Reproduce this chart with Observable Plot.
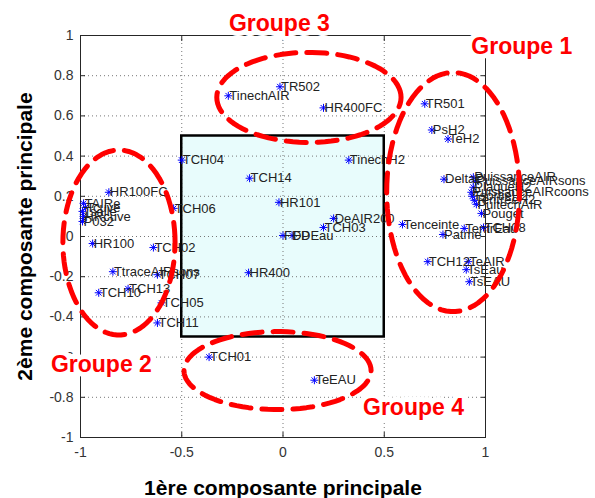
<!DOCTYPE html>
<html><head><meta charset="utf-8">
<script src="https://cdn.jsdelivr.net/npm/d3@7"></script>
<script src="https://cdn.jsdelivr.net/npm/@observablehq/plot@0.6"></script>
<style>body{margin:0;background:#fff} svg{display:block}</style>
</head><body><div id="chart"></div>
<script>
// Variables (labels) and their loadings on the two principal components
const names = ["HR100FC","TAIRe","Tsalle","Tcuve","HRcuve","P032","HR100","TtraceAIRsons","TCH10","TCH13",
  "TCH02","TCH07","TCH05","TCH11","TCH06","TCH04","TCH14","HR101","HR400","FDP","FDEau","TCH03","DeAIR200",
  "TinechH2","TCH01","TeEAU","TinechAIR","TR502","HR400FC","TR501","PsH2","TeH2","DeltaP",
  "PuissanceAIR","PuissanceAIRsons","PlaqueH2","PuissanceAIRcoons","TsortieH2","TentreeH2","PuitechAIR","Pouget",
  "Tenceinte","Patme","TentrEau","TCH08","TCH12","TeAIR","TsEau","TsEAU"];
const pc1 = [-0.86,-0.985,-0.99,-0.975,-0.985,-0.99,-0.94,-0.84,-0.91,-0.765,
  -0.64,-0.62,-0.60,-0.62,-0.54,-0.50,-0.165,-0.02,-0.17,0.0,0.045,0.20,0.25,
  0.325,-0.365,0.155,-0.27,-0.015,0.20,0.70,0.735,0.815,0.795,
  0.94,0.95,0.94,0.93,0.935,0.945,0.955,0.98,
  0.59,0.79,0.895,0.99,0.715,0.915,0.905,0.92];
const pc2 = [0.22,0.165,0.125,0.145,0.10,0.075,-0.035,-0.175,-0.28,-0.26,
  -0.055,-0.19,-0.33,-0.43,0.14,0.38,0.29,0.17,-0.18,0.005,0.005,0.045,0.09,
  0.38,-0.60,-0.715,0.70,0.745,0.64,0.66,0.53,0.485,0.285,
  0.295,0.275,0.245,0.22,0.20,0.18,0.16,0.115,
  0.06,0.01,0.04,0.045,-0.125,-0.125,-0.165,-0.225];

const xTicks = [-1,-0.5,0,0.5,1];
const yTicks = [-1,-0.8,-0.6,-0.4,-0.2,0,0.2,0.4,0.6,0.8,1];
const boxX = [-0.5, 0.5];
const boxY = [-0.5, 0.5];

const groupNames = ["Groupe 1","Groupe 2","Groupe 3","Groupe 4"];
const groupCx = [0.84,-0.81,0.128,-0.027];
const groupCy = [0.221,-0.03,0.692,-0.667];
const groupRx = [0.328,0.277,0.455,0.462];
const groupRy = [0.595,0.46,0.224,0.194];
const groupLabelX = [0.93,-1.146,-0.267,0.395];
const groupLabelY = [0.945,-0.637,1.06,-0.85];

const xLabel = "1ère composante principale";
const yLabel = "2ème composante principale";

const points = names.map((n,i) => ({name:n, x:pc1[i], y:pc2[i]}));
const box = [{x1:boxX[0], x2:boxX[1], y1:boxY[0], y2:boxY[1]}];
const ellipses = groupNames.flatMap((g,i) =>
  d3.range(0, 361, 4).map(a => ({g, x: groupCx[i] + groupRx[i]*Math.cos(a*Math.PI/180), y: groupCy[i] + groupRy[i]*Math.sin(a*Math.PI/180)})));
const groupLabels = groupNames.map((g,i) => ({g, x: groupLabelX[i], y: groupLabelY[i]}));

const fmt = d => String(d);
const ink = "#262626";

const chart = Plot.plot({
  width: 595, height: 498,
  marginLeft: 80, marginRight: 110, marginTop: 35, marginBottom: 61,
  style: {fontFamily: "'Liberation Sans', Arial, sans-serif", background: "#fff", overflow: "visible"},
  x: {domain: [-1, 1], label: null},
  y: {domain: [-1, 1], label: null},
  marks: [
    Plot.rect(box, {x1:"x1", x2:"x2", y1:"y1", y2:"y2", fill: "#e8fcfc"}),
    Plot.gridX(xTicks, {stroke: "#777", strokeOpacity: 1, strokeDasharray: "1,3"}),
    Plot.gridY(yTicks, {stroke: "#777", strokeOpacity: 1, strokeDasharray: "1,3"}),
    Plot.rect(box, {x1:"x1", x2:"x2", y1:"y1", y2:"y2", fill: "none", stroke: "#000", strokeWidth: 2.5}),
    Plot.frame({stroke: ink}),
    Plot.axisX(xTicks, {anchor: "bottom", tickSize: 0, tickPadding: 10, tickFormat: fmt, fontSize: 14, fill: "#333", label: null}),
    Plot.axisY(yTicks, {anchor: "left", tickSize: 0, tickPadding: 7, tickFormat: fmt, fontSize: 14, fill: "#333", label: null}),
    Plot.axisX(xTicks, {anchor: "bottom", tickSize: -5, tickFormat: () => "", stroke: ink, label: null}),
    Plot.axisX(xTicks, {anchor: "top", tickSize: -5, tickFormat: () => "", stroke: ink, label: null}),
    Plot.axisY(yTicks, {anchor: "left", tickSize: -5, tickFormat: () => "", stroke: ink, label: null}),
    Plot.axisY(yTicks, {anchor: "right", tickSize: -5, tickFormat: () => "", stroke: ink, label: null}),
    Plot.dot(points, {x:"x", y:"y", symbol: "plus", r: 2.7, stroke: "#0000ff", strokeWidth: 1}),
    Plot.dot(points, {x:"x", y:"y", symbol: "times", r: 2.7, stroke: "#0000ff", strokeWidth: 1}),
    Plot.text(points, {x:"x", y:"y", text:"name", textAnchor: "start", dx: 1, fontSize: 13, fill: "#222"}),
    Plot.line(ellipses, {x:"x", y:"y", z:"g", stroke: "#ff0000", strokeWidth: 5, strokeDasharray: "20,11", curve: "linear"}),
    Plot.text(groupLabels, {x:"x", y:"y", text:"g", textAnchor: "start", fontSize: 23, fontWeight: "bold", fill: "#ff0000", stroke: "#fff", strokeWidth: 10, strokeLinejoin: "round", paintOrder: "stroke"}),
    Plot.text([xLabel], {text: d => d, frameAnchor: "bottom", textAnchor: "middle", lineAnchor: "middle", dy: 51, fontSize: 21, fontWeight: "bold", fill: "#000"}),
    Plot.text([yLabel], {text: d => d, frameAnchor: "left", textAnchor: "middle", lineAnchor: "middle", rotate: -90, dx: -55, fontSize: 21, fontWeight: "bold", fill: "#000"})
  ]
});
document.getElementById("chart").appendChild(chart);
</script>
</body></html>
